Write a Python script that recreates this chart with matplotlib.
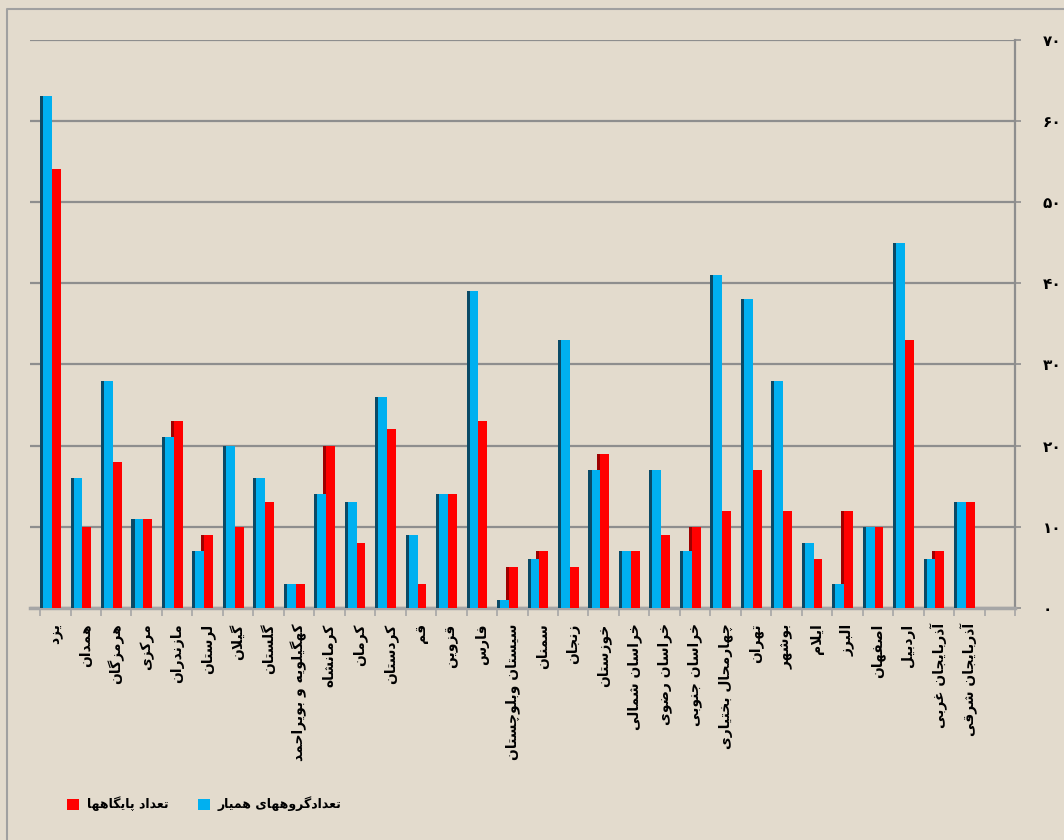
import matplotlib
matplotlib.use("Agg")
import matplotlib.pyplot as plt
from matplotlib.patches import Patch
from matplotlib.lines import Line2D
import numpy as np

provinces = ['یزد', 'همدان', 'هرمزگان', 'مرکزی', 'مازندران', 'لرستان', 'گیلان',
             'گلستان', 'کهگیلویه و بویراحمد', 'کرمانشاه', 'کرمان', 'کردستان', 'قم',
             'قزوین', 'فارس', 'سیستان وبلوچستان', 'سمنان', 'زنجان', 'خوزستان',
             'خراسان شمالی', 'خراسان رضوی', 'خراسان جنوبی', 'چهارمحال بختیاری',
             'تهران', 'بوشهر', 'ایلام', 'البرز', 'اصفهان', 'اردبیل',
             'آذربایجان غربی', 'آذربایجان شرقی']
groups = [63, 16, 28, 11, 21, 7, 20, 16, 3, 14, 13, 26, 9, 14, 39, 1, 6, 33, 17,
          7, 17, 7, 41, 38, 28, 8, 3, 10, 45, 6, 13]
bases = [54, 10, 18, 11, 23, 9, 10, 13, 3, 20, 8, 22, 3, 14, 23, 5, 7, 5, 19,
         7, 9, 10, 12, 17, 12, 6, 12, 10, 33, 7, 13]
yticks = [0, 10, 20, 30, 40, 50, 60, 70]
ytick_labels = ['۰', '۱۰', '۲۰', '۳۰', '۴۰', '۵۰', '۶۰', '۷۰']
label_groups = 'تعدادگروههای همیار'
label_bases = 'تعداد پایگاهها'

# -------------------------
# simple persian shaping (no bidi lib available)
# -------------------------
FORMS = {
    'ا': ('\uFE8D', '\uFE8E'), 'آ': ('\uFE81', '\uFE82'),
    'د': ('\uFEA9', '\uFEAA'), 'ذ': ('\uFEAB', '\uFEAC'),
    'ر': ('\uFEAD', '\uFEAE'), 'ز': ('\uFEAF', '\uFEB0'),
    'و': ('\uFEED', '\uFEEE'), 'ژ': ('\uFB8A', '\uFB8B'),
    'ب': ('\uFE8F', '\uFE90', '\uFE91', '\uFE92'),
    'ت': ('\uFE95', '\uFE96', '\uFE97', '\uFE98'),
    'ج': ('\uFE9D', '\uFE9E', '\uFE9F', '\uFEA0'),
    'ح': ('\uFEA1', '\uFEA2', '\uFEA3', '\uFEA4'),
    'خ': ('\uFEA5', '\uFEA6', '\uFEA7', '\uFEA8'),
    'س': ('\uFEB1', '\uFEB2', '\uFEB3', '\uFEB4'),
    'ش': ('\uFEB5', '\uFEB6', '\uFEB7', '\uFEB8'),
    'ص': ('\uFEB9', '\uFEBA', '\uFEBB', '\uFEBC'),
    'ض': ('\uFEBD', '\uFEBE', '\uFEBF', '\uFEC0'),
    'ع': ('\uFEC9', '\uFECA', '\uFECB', '\uFECC'),
    'غ': ('\uFECD', '\uFECE', '\uFECF', '\uFED0'),
    'ف': ('\uFED1', '\uFED2', '\uFED3', '\uFED4'),
    'ق': ('\uFED5', '\uFED6', '\uFED7', '\uFED8'),
    'ل': ('\uFEDD', '\uFEDE', '\uFEDF', '\uFEE0'),
    'م': ('\uFEE1', '\uFEE2', '\uFEE3', '\uFEE4'),
    'ن': ('\uFEE5', '\uFEE6', '\uFEE7', '\uFEE8'),
    'ه': ('\uFEE9', '\uFEEA', '\uFEEB', '\uFEEC'),
    'پ': ('\uFB56', '\uFB57', '\uFB58', '\uFB59'),
    'چ': ('\uFB7A', '\uFB7B', '\uFB7C', '\uFB7D'),
    'ک': ('\uFB8E', '\uFB8F', '\uFB90', '\uFB91'),
    'گ': ('\uFB92', '\uFB93', '\uFB94', '\uFB95'),
    'ی': ('\uFBFC', '\uFBFD', '\uFBFE', '\uFBFF'),
}
LAM_ALEF = ('\uFEFB', '\uFEFC')


def fa(text):
    chars = list(text)
    n = len(chars)
    out = []
    i = 0
    while i < n:
        c = chars[i]
        if c not in FORMS:
            out.append(c)
            i += 1
            continue
        prev = chars[i - 1] if i > 0 else None
        link_prev = prev is not None and prev in FORMS and len(FORMS[prev]) == 4
        if c == 'ل' and i + 1 < n and chars[i + 1] == 'ا':
            out.append(LAM_ALEF[1] if link_prev else LAM_ALEF[0])
            i += 2
            continue
        f = FORMS[c]
        nxt = chars[i + 1] if i + 1 < n else None
        link_next = len(f) == 4 and nxt is not None and nxt in FORMS
        if len(f) == 2:
            out.append(f[1] if link_prev else f[0])
        elif link_prev and link_next:
            out.append(f[3])
        elif link_prev:
            out.append(f[1])
        elif link_next:
            out.append(f[2])
        else:
            out.append(f[0])
        i += 1
    return ''.join(reversed(out))


bg = '#E3DBCD'
grid_c = '#8E8E8E'
blue = '#00B0F0'
blue_side = '#0A4A66'
red = '#FF0000'
red_side = '#9E0000'

fig = plt.figure(figsize=(10.64, 8.4), dpi=100, facecolor=bg)
ax = fig.add_axes([30 / 1064, 1 - 608 / 840, 985 / 1064, 568.5 / 840])
ax.set_facecolor('none')

x = np.arange(len(provinces))

# red bars (with dark side), then blue in front
ax.bar(x - 0.16, bases, width=0.1, color=red_side, zorder=3)
ax.bar(x + 0.035, bases, width=0.29, color=red, zorder=3)
ax.bar(x - 0.45, groups, width=0.1, color=blue_side, zorder=4)
ax.bar(x - 0.255, groups, width=0.29, color=blue, zorder=4)

ax.set_xlim(-0.83, 31.5)
ax.set_ylim(0, 70)

# =========================
# AXES
# =========================
for s in ['top', 'left']:
    ax.spines[s].set_visible(False)
ax.spines['right'].set_color(grid_c)
ax.spines['right'].set_linewidth(1.6)
ax.spines['bottom'].set_color('#A6A6A6')
ax.spines['bottom'].set_linewidth(2.5)

ax.yaxis.tick_right()
ax.set_yticks(yticks)
ax.set_yticklabels(ytick_labels, fontsize=11, fontweight='bold')
ax.tick_params(axis='y', length=4, color=grid_c, width=1.2, pad=16)
ax.yaxis.grid(True, color=grid_c, linewidth=1.6, zorder=0)

ax.set_xticks(x)
ax.set_xticklabels([fa(p) for p in provinces], rotation=90, fontsize=10,
                   fontweight='bold')
ax.set_xticks(np.arange(-0.5, 32, 1), minor=True)
ax.tick_params(axis='x', which='major', length=0, pad=11)
ax.tick_params(axis='x', which='minor', length=6, color='#A6A6A6', width=1.2)

# =========================
# LEGEND
# =========================
handles = [Patch(facecolor=red, edgecolor='none'),
           Patch(facecolor=blue, edgecolor='none')]
fig.legend(handles, [fa(label_bases), fa(label_groups)], loc='center left',
           bbox_to_anchor=(56 / 1064, 1 - 804 / 840), ncol=2, frameon=False,
           handlelength=0.95, handleheight=0.95, handletextpad=0.6,
           columnspacing=2.4, prop={'size': 9, 'weight': 'bold'})

# frame around chart area
fig.add_artist(Line2D([7 / 1064, 7 / 1064, 1], [0, 1 - 9 / 840, 1 - 9 / 840],
                      color='#A0A0A0', linewidth=1.5))

plt.savefig("out.png", dpi=100, facecolor=bg)
plt.close()
